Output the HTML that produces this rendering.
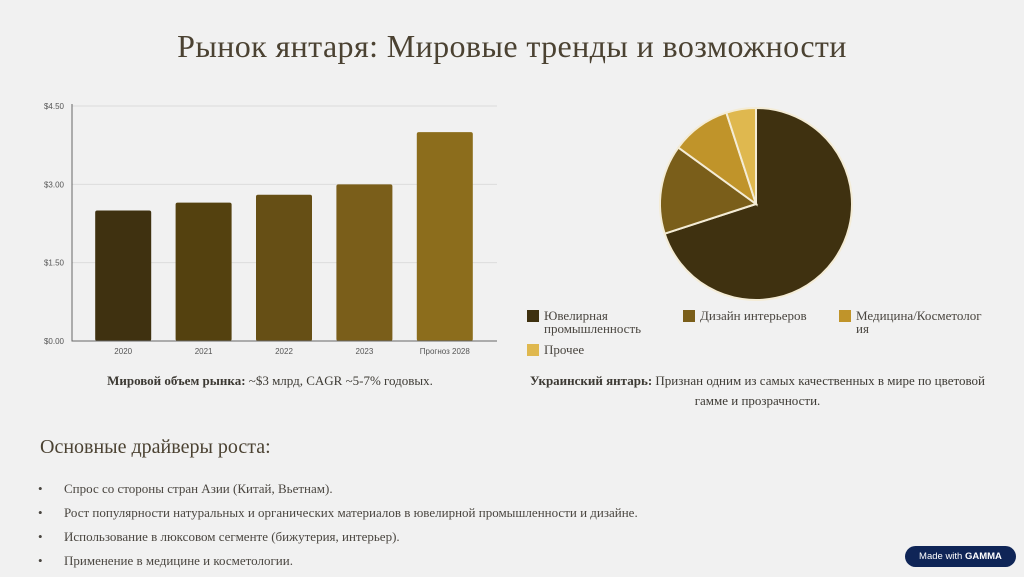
<!DOCTYPE html>
<html><head><meta charset="utf-8"><style>
body{margin:0;background:#f1f1f1;width:1024px;height:574px;overflow:hidden;position:relative;font-family:"Liberation Serif","DejaVu Serif",serif;color:#3d3a34}
.abs{position:absolute}
h1{position:absolute;left:0;width:1024px;top:28px;margin:0;text-align:center;font-weight:normal;font-size:32px;color:#4b4232;letter-spacing:0.4px}
.leg{font-size:13px;color:#4a4640;line-height:13px}
.sw{position:absolute;width:12px;height:12px}
li{margin-bottom:9px;line-height:15px}
</style></head><body>
<h1>Рынок янтаря: Мировые тренды и возможности</h1>
<svg class="abs" style="left:0;top:90px" width="520" height="280"><g id="bars"></g></svg>
<div class="abs" style="left:45px;width:450px;top:373px;text-align:center;font-size:13px"><b>Мировой объем рынка:</b> ~$3 млрд, CAGR ~5-7% годовых.</div>
<svg class="abs" style="left:640px;top:95px" width="240" height="220"><g id="pie"></g></svg>
<div class="leg abs" style="left:0;top:0">
<div class="sw" style="left:527px;top:310px;background:#3f3110"></div>
<div class="abs" style="left:544px;top:309px;width:120px">Ювелирная промышленность</div>
<div class="sw" style="left:683px;top:310px;background:#7a5e1a"></div>
<div class="abs" style="left:700px;top:309px;width:140px">Дизайн интерьеров</div>
<div class="sw" style="left:839px;top:310px;background:#c0942a"></div>
<div class="abs" style="left:856px;top:309px;width:132px;word-break:break-all">Медицина/Косметология</div>
<div class="sw" style="left:527px;top:344px;background:#dfb84f"></div>
<div class="abs" style="left:544px;top:343px">Прочее</div>
</div>
<div class="abs" style="left:515px;width:485px;top:371px;text-align:center;font-size:13px;line-height:20px"><b>Украинский янтарь:</b> Признан одним из самых качественных в мире по цветовой гамме и прозрачности.</div>
<div class="abs" style="left:40px;top:436px;font-size:20px;color:#4b4232">Основные драйверы роста:</div>
<ul class="abs" style="left:0;top:481px;margin:0;padding-left:64px;font-size:13px;list-style:none;color:#4a4640">
<li><span style="position:absolute;left:38px">•</span>Спрос со стороны стран Азии (Китай, Вьетнам).</li>
<li><span style="position:absolute;left:38px">•</span>Рост популярности натуральных и органических материалов в ювелирной промышленности и дизайне.</li>
<li><span style="position:absolute;left:38px">•</span>Использование в люксовом сегменте (бижутерия, интерьер).</li>
<li><span style="position:absolute;left:38px">•</span>Применение в медицине и косметологии.</li>
</ul>
<div class="abs" style="left:905px;top:546px;width:111px;height:21px;border-radius:11px;background:#0f2557;color:#fff;font-family:'Liberation Sans',sans-serif;font-size:9.5px;line-height:21px;text-align:center">Made with <b>GAMMA</b></div>
<script>
const categories=["2020","2021","2022","2023","Прогноз 2028"];
const values=[2.5,2.65,2.8,3.0,4.0];
const yTicks=[0,1.5,3.0,4.5];
const tickLabels=["$0.00","$1.50","$3.00","$4.50"];
const pieLabels=["jewelry","interior","medicine","other"];
const pieValues=[70,15,10,5];
const NS="http://www.w3.org/2000/svg";
function mk(t,a,p){const e=document.createElementNS(NS,t);for(const k in a)e.setAttribute(k,a[k]);p.appendChild(e);return e;}
const g=document.getElementById('bars');
const x0=72,x1=497,y0=251,yTop=16,bStart=83,bEnd=485;
const yS=v=>y0-(v/4.5)*(y0-yTop);
const band=(bEnd-bStart)/categories.length;
const xS=i=>bStart+band*(i+0.5);
const colors=["#3f3110","#54410f","#664f15","#7a5e1a","#8c6d1c"];
yTicks.forEach((t,i)=>{
 const l=mk('line',{x1:x0,x2:x1,y1:yS(t),y2:yS(t),stroke:'#dcdcdc','stroke-width':1},g);
 
 
 const tx=mk('text',{x:x0-8,y:yS(t)+3,'text-anchor':'end','font-size':8,fill:'#555','font-family':'Liberation Sans,sans-serif'},g);
 tx.textContent=tickLabels[i];
 
 
});
values.forEach((v,i)=>{
 const r=mk('rect',{x:xS(i)-28,y:yS(v),width:56,height:y0-yS(v),rx:2,fill:colors[i]},g);
 
 
 const tx=mk('text',{x:xS(i),y:y0+13,'text-anchor':'middle','font-size':8,fill:'#555','font-family':'Liberation Sans,sans-serif'},g);
 tx.textContent=categories[i];
 
 
});
const ax=mk('path',{d:`M${x0} ${yTop-2}V${y0}H${x1}`,stroke:'#666',fill:'none','stroke-width':1},g);


const p=document.getElementById('pie');
const cx=116,cy=109,R=96;
const pc=["#3f3110","#7a5e1a","#c0942a","#dfb84f"];
const tot=pieValues.reduce((a,b)=>a+b,0);
let acc=0;
pieValues.forEach((v,i)=>{
 const a0=acc/tot*2*Math.PI;acc+=v;const a1=acc/tot*2*Math.PI;
 const P=a=>[cx+R*Math.sin(a),cy-R*Math.cos(a)];
 const [sx,sy]=P(a0),[ex,ey]=P(a1);
 const s=mk('path',{d:`M${cx} ${cy}L${sx} ${sy}A${R} ${R} 0 ${a1-a0>Math.PI?1:0} 1 ${ex} ${ey}Z`,fill:pc[i],stroke:'#f4ecd6','stroke-width':2},p);
 
 
});
</script>
</body></html>
